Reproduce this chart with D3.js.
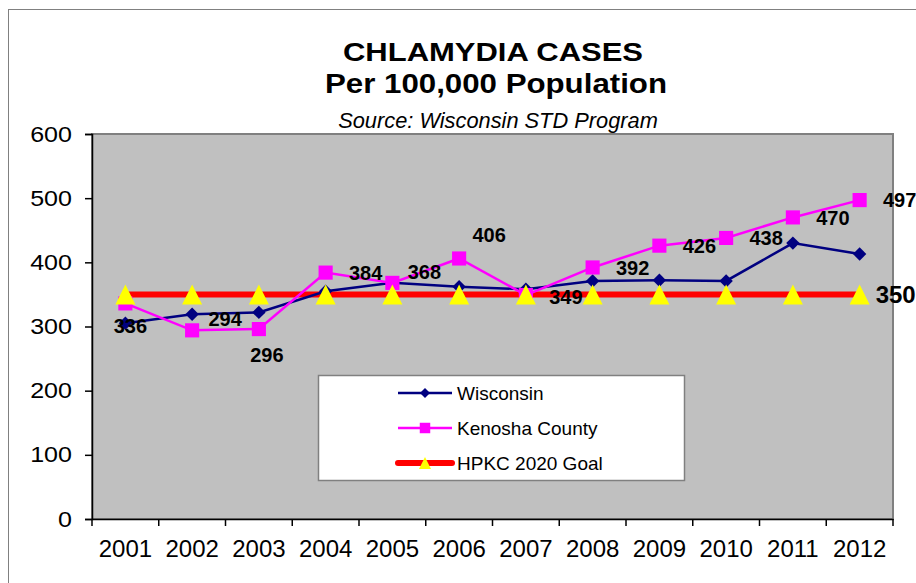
<!DOCTYPE html>
<html>
<head>
<meta charset="utf-8">
<script src="https://cdn.jsdelivr.net/npm/d3@7"></script>
<style>
  body { margin: 0; background: #fff; }
  text { font-family: "Liberation Sans", Arial, sans-serif; }
</style>
</head>
<body>
<div id="chart"></div>
<script>
// data
var years = ["2001", "2002", "2003", "2004", "2005", "2006", "2007", "2008", "2009", "2010", "2011", "2012"];
var wisconsin = [305, 319, 322, 355, 368, 362, 358, 371, 372, 371, 430, 413];
var kenosha = [336, 294, 296, 384, 368, 406, 349, 392, 426, 438, 470, 497];
var goal = [350, 350, 350, 350, 350, 350, 350, 350, 350, 350, 350, 350];
var yTicks = [0, 100, 200, 300, 400, 500, 600];

// label nudges for the Kenosha values (dx, dy from the point)
var labelNudge = {
  "2001": [5, 22], "2002": [33, -12], "2003": [8, 26], "2005": [32, -11],
  "2006": [30, -24], "2007": [40, 2]
};

var W = 916, H = 583;
var plot = {left: 92, top: 134, right: 893, bottom: 519};

var svg = d3.select("#chart").append("svg").attr("width", W).attr("height", H);

// widen text a bit, the original glyphs are drawn wide
function stretch(sel, k) {
  sel.each(function() {
    var len = this.getComputedTextLength();
    d3.select(this).attr("textLength", len * k).attr("lengthAdjust", "spacingAndGlyphs");
  });
}

// isosceles triangle marker, centred on its box
function triangle(w, h) {
  return {draw: function(ctx) {
    ctx.moveTo(0, -h / 2);
    ctx.lineTo(w / 2, h / 2);
    ctx.lineTo(-w / 2, h / 2);
    ctx.closePath();
  }};
}

// outer chart frame
svg.append("rect").attr("x", 8.5).attr("y", 9.5).attr("width", 940).attr("height", 600)
  .style("fill", "#fff").style("stroke", "#808080").style("stroke-width", 1);

var x = d3.scaleBand().domain(years).range([plot.left, plot.right]).padding(0);
var y = d3.scaleLinear().domain([0, 600]).range([plot.bottom, plot.top]);
function cx(d, i) { return x(years[i]) + x.bandwidth() / 2; }

// plot area
svg.append("rect").attr("x", plot.left).attr("y", plot.top)
  .attr("width", plot.right - plot.left).attr("height", plot.bottom - plot.top)
  .style("fill", "#c0c0c0").style("stroke", "#808080").style("stroke-width", 2);

// axes
var yAxis = d3.axisLeft(y).tickValues(yTicks).tickSize(7).tickPadding(13);
var gy = svg.append("g").attr("transform", "translate(" + plot.left + ",0)").call(yAxis);
gy.selectAll("text").style("font-size", "22px").style("fill", "#000").call(stretch, 1.14);
gy.selectAll("line, path").style("stroke", "#000").style("stroke-width", 1.5);

var xAxis = d3.axisBottom(x).tickSize(0).tickPadding(21);
var gx = svg.append("g").attr("transform", "translate(0," + plot.bottom + ")").call(xAxis);
gx.selectAll("text").style("font-size", "24px").style("fill", "#000");
gx.selectAll("path").style("stroke", "#000").style("stroke-width", 1.5);
// tick marks between categories
var bounds = years.map(function(d) { return x(d); }).concat([plot.right]);
gx.selectAll(".sep").data(bounds).enter().append("line")
  .attr("x1", function(d) { return d; }).attr("x2", function(d) { return d; })
  .attr("y1", 0).attr("y2", 7).style("stroke", "#000").style("stroke-width", 1.5);

var line = d3.line().x(cx).y(function(d) { return y(d); });

// goal line
svg.append("path").datum(goal).attr("d", line)
  .style("fill", "none").style("stroke", "#ff0000").style("stroke-width", 6);

// Wisconsin
svg.append("path").datum(wisconsin).attr("d", line)
  .style("fill", "none").style("stroke", "#000080").style("stroke-width", 2.5);

// Kenosha
svg.append("path").datum(kenosha).attr("d", line)
  .style("fill", "none").style("stroke", "#ff00ff").style("stroke-width", 2.5);

var diamond = d3.symbol().type(d3.symbolSquare).size(90);
var square = d3.symbol().type(d3.symbolSquare).size(200);
var tri = d3.symbol().type(triangle(20, 20));

svg.selectAll(".wi").data(wisconsin).enter().append("path")
  .attr("d", diamond)
  .attr("transform", function(d, i) { return "translate(" + cx(d, i) + "," + y(d) + ") rotate(45)"; })
  .style("fill", "#000080");

svg.selectAll(".ke").data(kenosha).enter().append("path")
  .attr("d", square)
  .attr("transform", function(d, i) { return "translate(" + cx(d, i) + "," + y(d) + ")"; })
  .style("fill", "#ff00ff");

svg.selectAll(".go").data(goal).enter().append("path")
  .attr("d", tri)
  .attr("transform", function(d, i) { return "translate(" + cx(d, i) + "," + y(d) + ")"; })
  .style("fill", "#ffff00");

// Kenosha value labels
svg.selectAll(".kl").data(kenosha).enter().append("text")
  .attr("x", function(d, i) { var n = labelNudge[years[i]] || [40, 0]; return cx(d, i) + n[0]; })
  .attr("y", function(d, i) { var n = labelNudge[years[i]] || [40, 0]; return y(d) + n[1]; })
  .attr("dy", "0.36em").attr("text-anchor", "middle")
  .style("font-size", "20px").style("font-weight", "bold")
  .text(function(d) { return d; });

// goal label at last point
var last = goal.length - 1;
svg.append("text").attr("x", cx(goal[last], last) + 16).attr("y", y(goal[last]))
  .attr("dy", "0.36em").style("font-size", "24px").style("font-weight", "bold")
  .text(goal[last]);

// titles
svg.append("text").attr("x", 493).attr("y", 61).attr("text-anchor", "middle")
  .attr("textLength", 300).attr("lengthAdjust", "spacingAndGlyphs")
  .style("font-size", "26px").style("font-weight", "bold").text("CHLAMYDIA CASES");
svg.append("text").attr("x", 496).attr("y", 93).attr("text-anchor", "middle")
  .attr("textLength", 342).attr("lengthAdjust", "spacingAndGlyphs")
  .style("font-size", "27px").style("font-weight", "bold").text("Per 100,000 Population");
svg.append("text").attr("x", 498).attr("y", 128).attr("text-anchor", "middle")
  .style("font-size", "21.8px").style("font-style", "italic").text("Source: Wisconsin STD Program");

// legend
var lg = svg.append("g");
lg.append("rect").attr("x", 318.5).attr("y", 375.5).attr("width", 366).attr("height", 105)
  .style("fill", "#fff").style("stroke", "#808080").style("stroke-width", 1.5);
var legendItems = [
  {name: "Wisconsin", color: "#000080", width: 2.5, sym: d3.symbol().type(d3.symbolSquare).size(50), rot: 45, fill: "#000080"},
  {name: "Kenosha County", color: "#ff00ff", width: 2.5, sym: d3.symbol().type(d3.symbolSquare).size(110), rot: 0, fill: "#ff00ff"},
  {name: "HPKC 2020 Goal", color: "#ff0000", width: 6, sym: d3.symbol().type(triangle(12, 12)), rot: 0, fill: "#ffff00"}
];
var rows = lg.selectAll(".row").data(legendItems).enter().append("g")
  .attr("transform", function(d, i) { return "translate(0," + (393 + i * 35) + ")"; });
rows.append("line").attr("x1", 398).attr("x2", 452).attr("y1", 0).attr("y2", 0)
  .style("stroke", function(d) { return d.color; })
  .style("stroke-width", function(d) { return d.width; })
  .style("stroke-linecap", function(d) { return d.width > 3 ? "round" : "butt"; });
rows.append("path").attr("d", function(d) { return d.sym(); })
  .attr("transform", function(d) { return "translate(425,0) rotate(" + d.rot + ")"; })
  .style("fill", function(d) { return d.fill; });
rows.append("text").attr("x", 457).attr("dy", "0.36em")
  .style("font-size", "19px").text(function(d) { return d.name; });
</script>
</body>
</html>
